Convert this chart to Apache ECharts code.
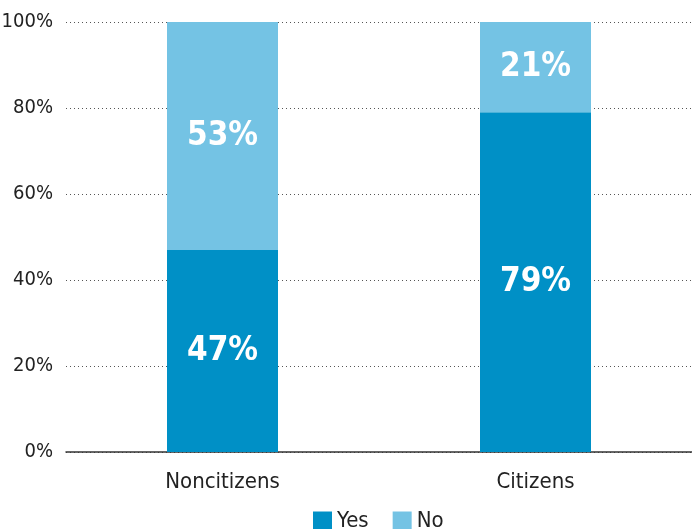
<!DOCTYPE html>
<html>
<head>
<meta charset="utf-8">
<script src="https://cdn.jsdelivr.net/npm/echarts@6/dist/echarts.min.js"></script>
<style>
  html, body { margin: 0; padding: 0; background: #fff; }
  #chart { width: 692px; height: 529px; }
</style>
</head>
<body>
<div id="chart"></div>
<script>
var categories = ['Noncitizens', 'Citizens'];
var yesValues = [47, 79];
var noValues = [53, 21];
var yTicks = [0, 20, 40, 60, 80, 100];

var font = '"DejaVu Sans Condensed", "Liberation Sans Narrow", sans-serif';
var chart = echarts.init(document.getElementById('chart'));

var barLabel = {
  show: true,
  position: 'inside',
  color: '#fff',
  fontFamily: font,
  fontWeight: 'bold',
  fontSize: 33,
  formatter: '{c}%'
};

chart.setOption({
  animation: false,
  grid: { left: 66, right: 0, top: 22, bottom: 77, outerBoundsMode: 'none', containLabel: false },
  legend: {
    top: 505,
    left: 308,
    itemWidth: 19,
    itemHeight: 19,
    itemGap: 24,
    icon: 'rect',
    textStyle: { fontFamily: font, fontSize: 22, color: '#222' },
    data: ['Yes', 'No']
  },
  xAxis: {
    type: 'category',
    data: categories,
    axisLine: { lineStyle: { color: '#333', width: 1.5 } },
    axisTick: { show: false },
    axisLabel: { fontFamily: font, fontSize: 22, color: '#222', margin: 19 }
  },
  yAxis: {
    type: 'value',
    min: yTicks[0],
    max: yTicks[yTicks.length - 1],
    interval: 20,
    axisLine: { show: false },
    axisTick: { show: false },
    axisLabel: { fontFamily: font, fontSize: 20, color: '#222', margin: 13, formatter: '{value}%' },
    splitLine: { lineStyle: { color: '#555', type: [1, 3], width: 1 } }
  },
  series: [
    {
      name: 'Yes', type: 'bar', stack: 'all', barWidth: 111,
      itemStyle: { color: '#0090c6' },
      label: barLabel,
      data: yesValues
    },
    {
      name: 'No', type: 'bar', stack: 'all', barWidth: 111,
      itemStyle: { color: '#74c3e4' },
      label: barLabel,
      data: noValues
    }
  ]
});
</script>
</body>
</html>
